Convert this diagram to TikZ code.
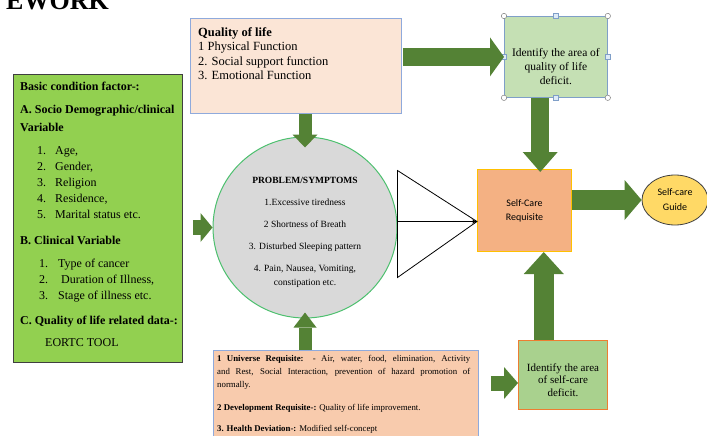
\documentclass[tikz,border=0pt]{standalone}
\usepackage{fontspec}
\setmainfont{Liberation Serif}
\newfontfamily\calibrifont{Carlito}
\usetikzlibrary{arrows.meta,calc,shapes.geometric}

\definecolor{basicgreen}{HTML}{92D050}
\definecolor{basicline}{HTML}{3F3F3F}
\definecolor{qolpeach}{HTML}{FBE5D6}
\definecolor{qolblue}{HTML}{8FAADC}
\definecolor{idqgreen}{HTML}{C5E0B4}
\definecolor{idqblue}{HTML}{7F9FC8}
\definecolor{probgray}{HTML}{D9D9D9}
\definecolor{probline}{HTML}{4CC06E}
\definecolor{scrorange}{HTML}{F4B183}
\definecolor{scrgold}{HTML}{FFC000}
\definecolor{guideyellow}{HTML}{FFD966}
\definecolor{ureqpeach}{HTML}{F8CBAD}
\definecolor{idsgreen}{HTML}{A9D18E}
\definecolor{idsorange}{HTML}{ED7D31}
\definecolor{arrowgreen}{HTML}{548235}
\definecolor{handlefill}{HTML}{DEEBF7}

\begin{document}
\begin{tikzpicture}[x=1pt, y=-1pt,
    boxnode/.style={rectangle, anchor=north west, inner sep=0pt},
    txtnode/.style={inner sep=0pt, anchor=north west, align=left},
    blockarrow/.style n args={3}{draw=arrowgreen, line width=#1,
        -{Triangle[width=#2, length=#3, line width=0pt]}},
    fanline/.style={draw=black, line width=0.8pt},
    handlesq/.style={draw=idqblue, fill=handlefill, line width=0.5pt, minimum size=5pt, inner sep=0pt},
    handlecirc/.style={draw=gray, fill=white, line width=0.5pt}]

    \useasboundingbox (0,0) rectangle (707,436);

    % Title, cut off at the top
    \node[anchor=base east, inner sep=0pt, font=\fontsize{26}{26}\selectfont\bfseries] (title) at (109,9.5) {EWORK};

    % Basic condition factors
    \node[boxnode, draw=basicline, fill=basicgreen, line width=0.8pt,
          minimum width=169pt, minimum height=288pt] (basic) at (13,74) {};
    \node[txtnode, font=\fontsize{12}{16}\selectfont] (basictxt) at (20,82) {%
        \textbf{Basic condition factor-:}\\[7pt]
        \textbf{A. Socio Demographic/clinical}\\[2pt]
        \textbf{Variable}\\[7pt]
        \hspace*{17pt}\makebox[18pt][l]{1.}Age,\\
        \hspace*{17pt}\makebox[18pt][l]{2.}Gender,\\
        \hspace*{17pt}\makebox[18pt][l]{3.}Religion\\
        \hspace*{17pt}\makebox[18pt][l]{4.}Residence,\\
        \hspace*{17pt}\makebox[18pt][l]{5.}Marital status etc.\\[10pt]
        \textbf{B. Clinical Variable}\\[7pt]
        \hspace*{19pt}\makebox[19pt][l]{1.}Type of cancer\\
        \hspace*{19pt}\makebox[19pt][l]{2.}\ Duration of Illness,\\
        \hspace*{19pt}\makebox[19pt][l]{3.}Stage of illness etc.\\[9pt]
        \textbf{C. Quality of life related data-:}\\[6pt]
        \hspace*{25pt}EORTC TOOL};

    % Quality of life
    \node[boxnode, draw=qolblue, fill=qolpeach, line width=0.8pt,
          minimum width=211pt, minimum height=95pt] (qol) at (190,18) {};
    \node[txtnode, font=\fontsize{12.5}{14.5}\selectfont] (qoltxt) at (198,27) {%
        \textbf{Quality of life}\\
        1 Physical Function\\
        2. Social support function\\
        3. Emotional Function};

    % Quality of life deficit (selected shape)
    \node[boxnode, draw=idqblue, fill=idqgreen, line width=0.8pt,
          minimum width=103pt, minimum height=81pt] (idq) at (504,16) {};
    \node[inner sep=0pt, align=center, font=\fontsize{11.5}{14}\selectfont] (idqtxt)
          at ([yshift=-10pt]idq.center) {Identify the area of\\quality of life\\deficit.};
    \foreach \c in {north west, north east, south west, south east}
        \draw[handlecirc] (idq.\c) circle (2.7pt);
    \foreach \s in {north, south, east, west}
        \node[handlesq] (idq-\s) at (idq.\s) {};

    % Problem / symptoms
    \node[ellipse, draw=probline, fill=probgray, line width=1pt,
          minimum width=184pt, minimum height=181pt, inner sep=0pt] (prob) at (305,227.5) {};
    \node[inner sep=0pt, align=center, font=\fontsize{9.5}{14}\selectfont] (probtxt)
          at ([yshift=-4.5pt]prob.center) {%
        \textbf{PROBLEM/SYMPTOMS}\\[8pt]
        1.Excessive tiredness\\[8pt]
        2 Shortness of Breath\\[8pt]
        3. Disturbed Sleeping pattern\\[8pt]
        4. Pain, Nausea, Vomiting,\\
        constipation etc.};

    % Self-care requisite and guide
    \node[boxnode, draw=scrgold, fill=scrorange, line width=1pt,
          minimum width=94pt, minimum height=82pt, align=center,
          font=\calibrifont\fontsize{10}{14}\selectfont] (scr) at (477,169) {Self-Care\\Requisite};
    \node[ellipse, draw=basicline, fill=guideyellow, line width=0.8pt,
          minimum width=66pt, minimum height=50pt, inner sep=0pt, align=center,
          font=\calibrifont\fontsize{10}{15}\selectfont] (guide) at (675,200) {Self-care\\Guide};

    % Requisites
    \node[boxnode, draw=qolblue, fill=ureqpeach, line width=0.8pt,
          minimum width=265pt, minimum height=100pt] (ureq) at (213,350) {};
    \node[txtnode, text width=253pt, align=justify, font=\fontsize{8.8}{13}\selectfont] (ureqtxt) at (217,355) {%
        \textbf{1 Universe Requisite:} - Air, water, food, elimination, Activity\linebreak
        and Rest, Social Interaction, prevention of hazard promotion of\linebreak
        normally.\\[10pt]
        \textbf{2 Development Requisite-:} Quality of life improvement.\\[8pt]
        \textbf{3. Health Deviation-:} Modified self-concept};

    % Self-care deficit
    \node[boxnode, draw=idsorange, fill=idsgreen, line width=1pt,
          minimum width=89pt, minimum height=69pt] (ids) at (518,340) {};
    \node[inner sep=0pt, align=center, font=\fontsize{11}{12.5}\selectfont] (idstxt)
          at ([yshift=-5pt]ids.center) {Identify the area\\of self-care\\deficit.};

    % Block arrows
    \draw[blockarrow={18pt}{39pt}{14pt}, shorten <=1pt] (qol.east |- idq.west) -- (idq.west);
    \coordinate (m1) at ($(idq.south)!.5!(scr.north)$);
    \draw[blockarrow={18pt}{35pt}{20pt}] (m1 |- idq.south) -- ([yshift=-3pt]m1 |- scr.north);
    \draw[blockarrow={13pt}{25pt}{13pt}] (prob.north |- qol.south) -- ([yshift=-11pt]prob.north);
    \draw[blockarrow={13pt}{23pt}{15pt}] (prob.south |- ureq.north) -- ([yshift=6pt]prob.south);
    \draw[blockarrow={15pt}{29pt}{12pt}, shorten <=10pt] (basic.east |- prob.west) -- (prob.west);
    \draw[blockarrow={20pt}{40pt}{17pt}] (scr.east |- guide.west) -- (guide.west);
    \coordinate (m2) at ($(ids.north)!.5!(scr.south)$);
    \draw[blockarrow={20pt}{40pt}{22pt}] (m2 |- ids.north) -- (m2 |- scr.south);
    \coordinate (idsin) at ([yshift=-8pt]ids.west);
    \draw[blockarrow={15pt}{32pt}{14pt}, shorten <=12pt] (ureq.east |- idsin) -- (idsin);

    % Triangle into the requisite box
    \coordinate (apex) at ([yshift=-11pt]scr.west);
    \coordinate (tritop) at ($(prob.east |- apex)+(0,-51)$);
    \coordinate (tribot) at ($(prob.east |- apex)+(0,56)$);
    \draw[fanline] (tritop) -- (apex) -- (tribot) -- cycle;
    \draw[fanline, -{Stealth[length=5pt, width=4pt]}] (prob.east |- apex) -- (apex);
\end{tikzpicture}
\end{document}
